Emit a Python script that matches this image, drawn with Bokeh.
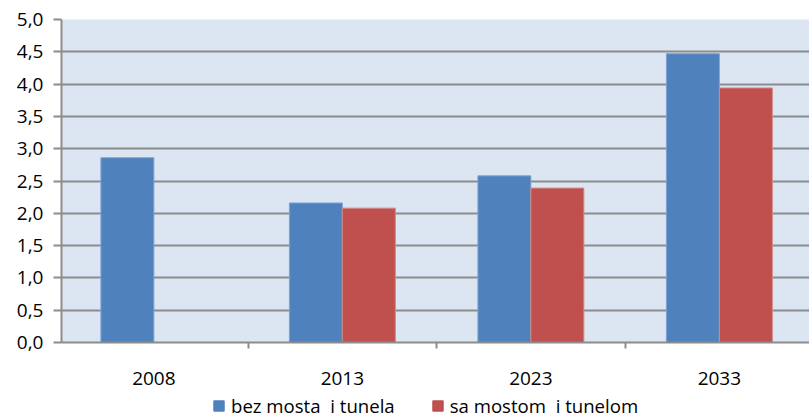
from bokeh.plotting import figure
from bokeh.layouts import column
from bokeh.models import (Range1d, FixedTicker, CustomJSTickFormatter, Legend, LegendItem,
                          ColumnDataSource, LinearAxis, Grid)
from bokeh.embed import file_html
from bokeh.resources import INLINE

years = ["2008", "2013", "2023", "2033"]
bez_mosta = [2.86, 2.16, 2.58, 4.47]
sa_mostom = [None, 2.08, 2.39, 3.94]
y_ticks = [0.0, 0.5, 1.0, 1.5, 2.0, 2.5, 3.0, 3.5, 4.0, 4.5, 5.0]
series_names = ["bez mosta  i tunela", "sa mostom  i tunelom"]

FONT = "Open Sans"
BLUE = "#4F81BD"
RED = "#C0504D"
GRID = "#8c8c8c"

centers = [i + 0.5 for i in range(len(years))]
bar_w = 0.281

blue_src = ColumnDataSource(dict(x=[c - bar_w / 2 for c in centers], top=bez_mosta))
red_x = [c + bar_w / 2 for c, v in zip(centers, sa_mostom) if v is not None]
red_top = [v for v in sa_mostom if v is not None]
red_src = ColumnDataSource(dict(x=red_x, top=red_top))

W = 809
H_MAIN = 390
H_LEG = 28
p = figure(width=W, height=H_MAIN, output_backend="svg", toolbar_location=None,
           x_range=Range1d(0.01, 748 / 188.5 + 0.01), y_range=Range1d(0, 5),
           x_axis_type=None, y_axis_type=None,
           min_border_left=61, min_border_right=0, min_border_top=19, min_border_bottom=48)
p.outline_line_color = None
p.background_fill_color = "#DCE6F2"
p.border_fill_color = "white"

g = Grid(dimension=1, ticker=FixedTicker(ticks=y_ticks), grid_line_color=GRID, grid_line_width=2)
p.add_layout(g)

rb = p.vbar(x="x", top="top", width=bar_w, source=blue_src, fill_color=BLUE, line_color="#7FA3D0", line_width=1)
rr = p.vbar(x="x", top="top", width=bar_w, source=red_src, fill_color=RED, line_color="#D08A88", line_width=1)

yax = LinearAxis(ticker=FixedTicker(ticks=y_ticks),
                 formatter=CustomJSTickFormatter(code="return tick.toFixed(1).replace('.', ',');"))
yax.axis_line_color = GRID
yax.axis_line_width = 2
yax.major_tick_line_color = GRID
yax.major_tick_line_width = 2
yax.major_tick_out = 8
yax.major_tick_in = 0
yax.minor_tick_line_color = None
yax.major_label_standoff = 10
yax.major_label_text_font = FONT
yax.major_label_text_font_size = "19px"
yax.major_label_text_color = "#000000"
p.add_layout(yax, "left")

xax = LinearAxis(ticker=FixedTicker(ticks=centers, minor_ticks=[0, 1, 2, 3]),
                 major_label_overrides={c: y for c, y in zip(centers, years)})
xax.axis_line_color = GRID
xax.axis_line_width = 2
xax.major_tick_line_color = None
xax.major_tick_out = 0
xax.major_tick_in = 0
xax.minor_tick_line_color = GRID
xax.minor_tick_line_width = 2
xax.minor_tick_out = 6
xax.minor_tick_in = 0
xax.major_label_standoff = 23
xax.major_label_text_font = FONT
xax.major_label_text_font_size = "19px"
xax.major_label_text_color = "#000000"
p.add_layout(xax, "below")

# legend strip
leg = figure(width=W, height=H_LEG, output_backend="svg", toolbar_location=None,
             x_range=Range1d(0, 1), y_range=Range1d(0, 1),
             x_axis_type=None, y_axis_type=None,
             min_border_left=0, min_border_right=0, min_border_top=0, min_border_bottom=0)
leg.outline_line_color = None
leg.xgrid.visible = False
leg.ygrid.visible = False
dummy = ColumnDataSource(dict(x=[-10], top=[-10]))
lb = leg.vbar(x="x", top="top", width=0.1, source=dummy, fill_color=BLUE, line_color=BLUE)
lr = leg.vbar(x="x", top="top", width=0.1, source=dummy, fill_color=RED, line_color=RED)

legend = Legend(items=[LegendItem(label=series_names[0], renderers=[lb]),
                       LegendItem(label=series_names[1], renderers=[lr])],
                orientation="horizontal", location=(151, 0))
legend.background_fill_alpha = 0
legend.border_line_color = None
legend.padding = 0
legend.margin = 0
legend.spacing = 36
legend.glyph_width = 13
legend.glyph_height = 13
legend.label_standoff = 6
legend.label_text_font = FONT
legend.label_text_font_size = "18.6px"
legend.label_text_color = "#000000"
leg.add_layout(legend, "center")

layout = column(p, leg, spacing=0)
open("out.html", "w").write(file_html(layout, INLINE))
